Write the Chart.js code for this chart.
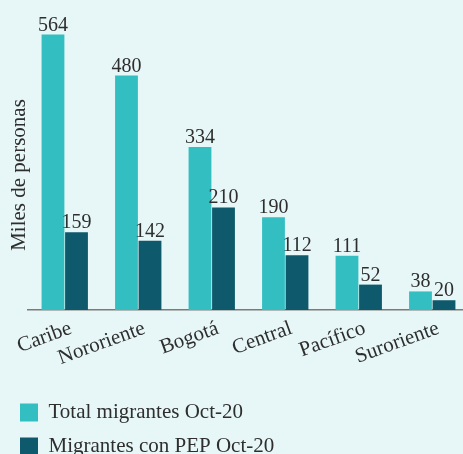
<!DOCTYPE html>
<html>
<head>
<meta charset="utf-8">
<script src="https://cdn.jsdelivr.net/npm/chart.js@4.4.1/dist/chart.umd.min.js"></script>
<style>
  html, body { margin: 0; padding: 0; overflow: hidden; background: #e7f7f7; }
  #wrap { position: absolute; left: 0; top: 0; width: 469px; height: 467px; }
</style>
</head>
<body>
<div id="wrap"><canvas id="chart" width="469" height="467"></canvas></div>
<script>
// data (miles de personas)
const regiones = ['Caribe', 'Nororiente', 'Bogotá', 'Central', 'Pacífico', 'Suroriente'];
const totalMigrantes = [564, 480, 334, 190, 111, 38];
const migrantesPEP = [159, 142, 210, 112, 52, 20];
const seriesNames = ['Total migrantes Oct-20', 'Migrantes con PEP Oct-20'];
const yTitle = 'Miles de personas';

const SERIF = '"Liberation Serif", "DejaVu Serif", serif';
const TEXT = '#2e2e2e';

// value on top of each bar
const barValues = {
  id: 'barValues',
  afterDatasetsDraw(chart) {
    const ctx = chart.ctx;
    ctx.save();
    ctx.font = '20px ' + SERIF;
    ctx.fillStyle = TEXT;
    ctx.textAlign = 'center';
    ctx.textBaseline = 'alphabetic';
    chart.data.datasets.forEach((ds, i) => {
      chart.getDatasetMeta(i).data.forEach((bar, j) => {
        ctx.fillText(String(ds.data[j]), bar.x, bar.y - 4);
      });
    });
    ctx.restore();
  }
};

// rotated y title, placed like the original
const yAxisTitle = {
  id: 'yAxisTitle',
  afterDraw(chart) {
    const ctx = chart.ctx;
    ctx.save();
    ctx.translate(19, 175);
    ctx.rotate(-Math.PI / 2);
    ctx.font = '21px ' + SERIF;
    ctx.fillStyle = TEXT;
    ctx.textAlign = 'center';
    ctx.textBaseline = 'middle';
    ctx.fillText(yTitle, 0, 0);
    ctx.restore();
  }
};

new Chart(document.getElementById('chart'), {
  type: 'bar',
  data: {
    labels: regiones,
    datasets: [
      { label: seriesNames[0], data: totalMigrantes, backgroundColor: '#33bec1' },
      { label: seriesNames[1], data: migrantesPEP, backgroundColor: '#0e596b' }
    ]
  },
  options: {
    responsive: false,
    devicePixelRatio: 1,
    animation: false,
    categoryPercentage: 0.64,
    barPercentage: 0.97,
    layout: { padding: { left: 7, top: 17, right: 0, bottom: 0 } },
    plugins: {
      tooltip: { enabled: false },
      legend: {
        position: 'bottom',
        align: 'start',
        labels: {
          boxWidth: 18,
          boxHeight: 18,
          padding: 13,
          color: TEXT,
          font: { family: SERIF, size: 21 }
        }
      }
    },
    scales: {
      x: {
        grid: { display: false },
        border: { color: '#7a7a7a', width: 1.5 },
        ticks: {
          color: TEXT,
          font: { family: SERIF, size: 21 },
          autoSkip: false,
          minRotation: 20,
          maxRotation: 20,
          padding: -2,
          labelOffset: 6
        },
        afterFit(axis) { axis.height = 79; }
      },
      y: {
        min: 0,
        max: 600,
        grid: { display: false },
        border: { display: false },
        ticks: { display: false },
        afterFit(axis) { axis.width = 21; }
      }
    }
  },
  plugins: [barValues, yAxisTitle]
});
</script>
</body>
</html>
